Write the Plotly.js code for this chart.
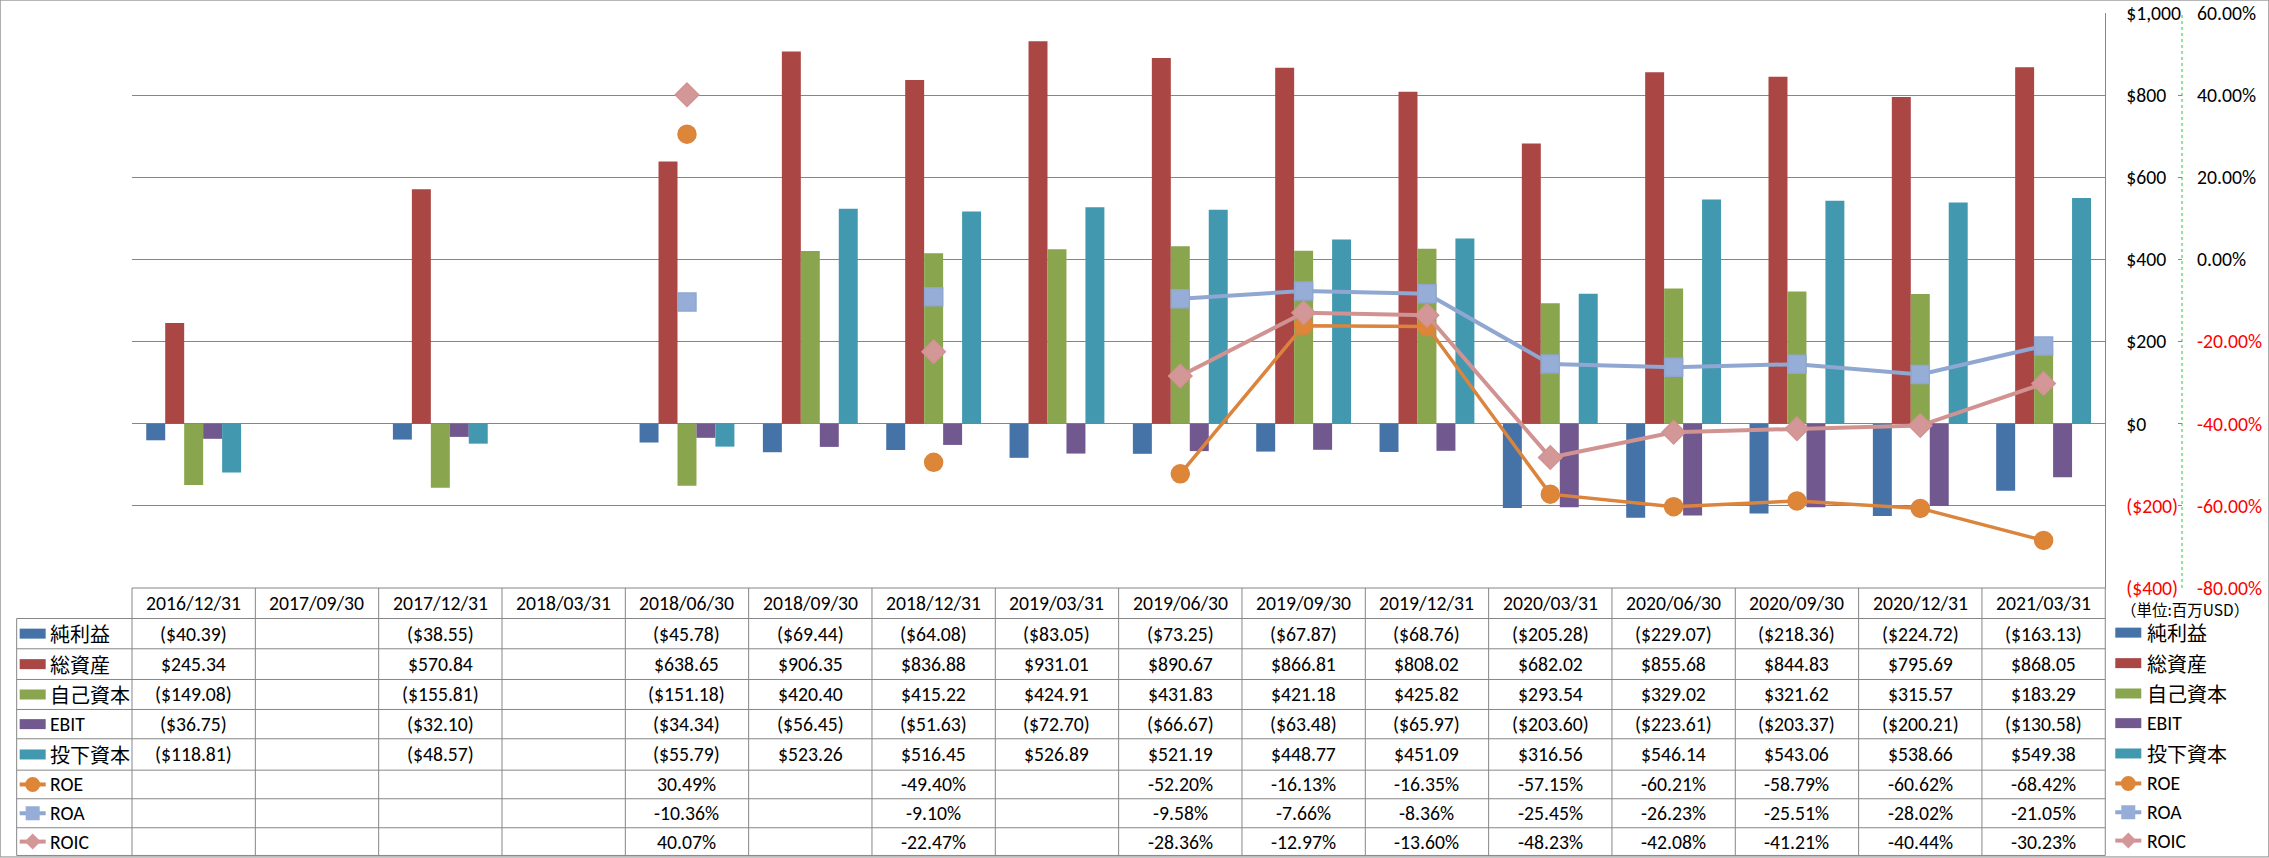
<!DOCTYPE html>
<html><head><meta charset="utf-8">
<script src="https://cdn.plot.ly/plotly-3.0.1.min.js"></script>
<style>html,body{margin:0;padding:0;background:#fff;}#chart{width:2269px;height:858px;}</style>
</head><body><div id="chart"></div>
<script>
// ---------- data ----------
const dates = ['2016/12/31','2017/09/30','2017/12/31','2018/03/31','2018/06/30','2018/09/30','2018/12/31','2019/03/31','2019/06/30','2019/09/30','2019/12/31','2020/03/31','2020/06/30','2020/09/30','2020/12/31','2021/03/31'];
const netIncome   = [-40.39, null, -38.55, null, -45.78, -69.44, -64.08, -83.05, -73.25, -67.87, -68.76, -205.28, -229.07, -218.36, -224.72, -163.13];
const totalAssets = [245.34, null, 570.84, null, 638.65, 906.35, 836.88, 931.01, 890.67, 866.81, 808.02, 682.02, 855.68, 844.83, 795.69, 868.05];
const equity      = [-149.08, null, -155.81, null, -151.18, 420.40, 415.22, 424.91, 431.83, 421.18, 425.82, 293.54, 329.02, 321.62, 315.57, 183.29];
const ebit        = [-36.75, null, -32.10, null, -34.34, -56.45, -51.63, -72.70, -66.67, -63.48, -65.97, -203.60, -223.61, -203.37, -200.21, -130.58];
const investedCap = [-118.81, null, -48.57, null, -55.79, 523.26, 516.45, 526.89, 521.19, 448.77, 451.09, 316.56, 546.14, 543.06, 538.66, 549.38];
const roe  = [null, null, null, null, 30.49, null, -49.40, null, -52.20, -16.13, -16.35, -57.15, -60.21, -58.79, -60.62, -68.42];
const roa  = [null, null, null, null, -10.36, null, -9.10, null, -9.58, -7.66, -8.36, -25.45, -26.23, -25.51, -28.02, -21.05];
const roic = [null, null, null, null, 40.07, null, -22.47, null, -28.36, -12.97, -13.60, -48.23, -42.08, -41.21, -40.44, -30.23];
const barNames  = ['純利益','総資産','自己資本','EBIT','投下資本'];
const lineNames = ['ROE','ROA','ROIC'];
const usdTicks = [-400,-200,0,200,400,600,800,1000];
const pctTicks = [-80,-60,-40,-20,0,20,40,60];
const unitLabel = '（単位:百万USD）';

// ---------- styling ----------
const barSeries = [netIncome, totalAssets, equity, ebit, investedCap];
const lineSeries = [roe, roa, roic];
const barColors = ['#4572A7','#AA4643','#89A54E','#71588F','#4198AF'];
const lineColors = ['#DB843D','#8FA7D1','#D19392'];
const markerFill = ['#DE8638','#96ADD7','#D49797'];
const lineSymbols = ['circle','square','diamond'];
const FONT = 'Carlito, Calibri, "Noto Sans CJK JP", sans-serif';
const CJKFONT = '"Noto Sans CJK JP", sans-serif';
const GRID = '#868686';
const FS = 19.7;

const W=2269, H=858, L=132.3, R=87.3, T=13.4, B=269.5;
const PW=W-L-R, PH=H-T-B;
const XD = (2105-L)/PW;           // x-domain end
const px = X => (X-L)/PW;
const py = Y => (H-B-Y)/PH;

const fmtUsd = v => v<0 ? '($'+Math.abs(v).toFixed(2)+')' : '$'+v.toFixed(2);
const fmtUsdTick = v => v<0 ? '($'+Math.abs(v).toLocaleString('en-US')+')' : '$'+v.toLocaleString('en-US');
const fmtPct = v => v.toFixed(2)+'%';
const red = s => '<span style="color:#FF0000">'+s+'</span>';

// ---------- traces ----------
const traces = [];
barSeries.forEach((s,k)=>traces.push({type:'bar', x:dates, y:s, name:barNames[k], marker:{color:barColors[k]}, hoverinfo:'skip'}));
lineSeries.forEach((s,k)=>traces.push({type:'scatter', mode:'lines+markers', x:dates, y:s, name:lineNames[k], yaxis:'y2', connectgaps:false,
  line:{color:lineColors[k], width:k===0?3.5:4},
  marker:{symbol:lineSymbols[k], size:18, color:markerFill[k], line:{width:1.5, color:lineColors[k]}}, hoverinfo:'skip'}));

// ---------- table + legend ----------
const rowY = [588.5, 619, 649.3, 680, 710, 739.3, 770.7, 799.3, 828.3, 856];
const shapes = [], annotations = [];
const ln = (x0,y0,x1,y1,xref)=>shapes.push({type:'line', xref:xref||'paper', yref:'paper', x0, x1, y0, y1, line:{color:GRID, width:1}, layer:'above'});
// outer border
shapes.push({type:'rect', xref:'paper', yref:'paper', x0:px(0.5), x1:px(W-0.5), y0:py(0.5), y1:py(H-0.5), line:{color:GRID, width:1}});
// horizontal table lines
ln(0, py(rowY[0]), XD, py(rowY[0]));
for(let r=1;r<rowY.length;r++) ln(px(17), py(rowY[r]), XD, py(rowY[r]));
// vertical table lines
ln(0, py(rowY[0]), 0, py(rowY[9]));
ln(XD, py(rowY[0]), XD, py(rowY[9]));
for(let i=1;i<dates.length;i++) ln(i-0.5, py(rowY[0]), i-0.5, py(rowY[9]), 'x');
ln(px(17), py(rowY[1]), px(17), py(rowY[9]));
// green dashed secondary axis line
shapes.push({type:'line', xref:'paper', yref:'paper', x0:1, x1:1, y0:0, y1:1, line:{color:'#22CC22', width:1, dash:'3px,3px'}});

const tfont = {family:FONT, size:FS, color:'#000'};
const cjk = s => /[^\x00-\x7F]/.test(s);
const labelFont = s => cjk(s) ? {family:CJKFONT, size:20, color:'#000'} : tfont;
const rowMid = r => py((rowY[r]+rowY[r+1])/2);

dates.forEach(d=>annotations.push({xref:'x', yref:'paper', x:d, y:rowMid(0), text:d, showarrow:false, font:tfont, xanchor:'center', yanchor:'middle'}));
barSeries.forEach((s,k)=>s.forEach((v,i)=>{ if(v!==null) annotations.push({xref:'x', yref:'paper', x:dates[i], y:rowMid(k+1), text:fmtUsd(v), showarrow:false, font:tfont, yanchor:'middle'}); }));
lineSeries.forEach((s,k)=>s.forEach((v,i)=>{ if(v!==null) annotations.push({xref:'x', yref:'paper', x:dates[i], y:rowMid(k+6), text:fmtPct(v), showarrow:false, font:tfont, yanchor:'middle'}); }));

function key(X0, Yc, idx){
  const X1 = X0+26, Xc = (X0+X1)/2;
  if(idx<5){
    shapes.push({type:'rect', xref:'paper', yref:'paper', x0:px(X0), x1:px(X1), y0:py(Yc-5), y1:py(Yc+5), fillcolor:barColors[idx], line:{width:0}});
  } else {
    const k = idx-5, c = lineColors[k], f = markerFill[k];
    shapes.push({type:'line', xref:'paper', yref:'paper', x0:px(X0), x1:px(X1), y0:py(Yc), y1:py(Yc), line:{color:c, width:4}});
    if(k===0) shapes.push({type:'circle', xref:'paper', yref:'paper', x0:px(Xc-7.5), x1:px(Xc+7.5), y0:py(Yc-7.5), y1:py(Yc+7.5), fillcolor:f, line:{width:0}});
    if(k===1) shapes.push({type:'rect', xref:'paper', yref:'paper', x0:px(Xc-7), x1:px(Xc+7), y0:py(Yc-7), y1:py(Yc+7), fillcolor:f, line:{width:0}});
    if(k===2) shapes.push({type:'path', xref:'paper', yref:'paper', path:`M${px(Xc)},${py(Yc-8)} L${px(Xc+8)},${py(Yc)} L${px(Xc)},${py(Yc+8)} L${px(Xc-8)},${py(Yc)} Z`, fillcolor:f, line:{width:0}});
  }
}
const allNames = barNames.concat(lineNames);
allNames.forEach((n,idx)=>{
  const Yc = (rowY[idx+1]+rowY[idx+2])/2;
  key(20, Yc, idx);
  annotations.push({xref:'paper', yref:'paper', x:px(48.5), y:py(Yc), text:n, showarrow:false, font:labelFont(n), xanchor:'left', yanchor:'middle'});
  key(2115, Yc-1, idx);
  annotations.push({xref:'paper', yref:'paper', x:px(2144.5), y:py(Yc-1), text:n, showarrow:false, font:labelFont(n), xanchor:'left', yanchor:'middle'});
});
annotations.push({xref:'paper', yref:'paper', x:px(2119), y:py(610), text:unitLabel, showarrow:false, font:{family:CJKFONT, size:15.5, color:'#000'}, xanchor:'left', yanchor:'middle'});

// ---------- layout ----------
const layout = {
  width:W, height:H, margin:{l:L, r:R, t:T, b:B, pad:0},
  paper_bgcolor:'#fff', plot_bgcolor:'rgba(0,0,0,0)',
  showlegend:false, barmode:'group', bargap:0.231, bargroupgap:0,
  font:{family:FONT, size:FS, color:'#000'},
  xaxis:{type:'category', categoryorder:'array', categoryarray:dates, domain:[0,XD], range:[-0.5,dates.length-0.5],
    showticklabels:false, ticks:'', showgrid:false, zeroline:false, showline:false},
  yaxis:{range:[-400,1000], side:'right', tickmode:'array', tickvals:usdTicks,
    ticktext:usdTicks.map(v=>v<0?red(fmtUsdTick(v)):fmtUsdTick(v)),
    showgrid:true, gridcolor:GRID, gridwidth:1, zeroline:false, showline:true, linecolor:GRID, linewidth:1,
    ticks:'', ticklabelstandoff:16, tickfont:{family:FONT, size:FS, color:'#000'}},
  yaxis2:{range:[-80,60], overlaying:'y', side:'right', anchor:'free', position:1, tickmode:'array', tickvals:pctTicks,
    ticktext:pctTicks.map(v=>v<0?red(fmtPct(v)):fmtPct(v)),
    showgrid:false, zeroline:false, showline:false, ticks:'inside', ticklen:4, tickcolor:'#22CC22', tickwidth:1,
    ticklabelstandoff:14, tickfont:{family:FONT, size:FS, color:'#000'}},
  shapes, annotations
};
Plotly.newPlot('chart', traces, layout, {staticPlot:true, displayModeBar:false});
</script></body></html>
